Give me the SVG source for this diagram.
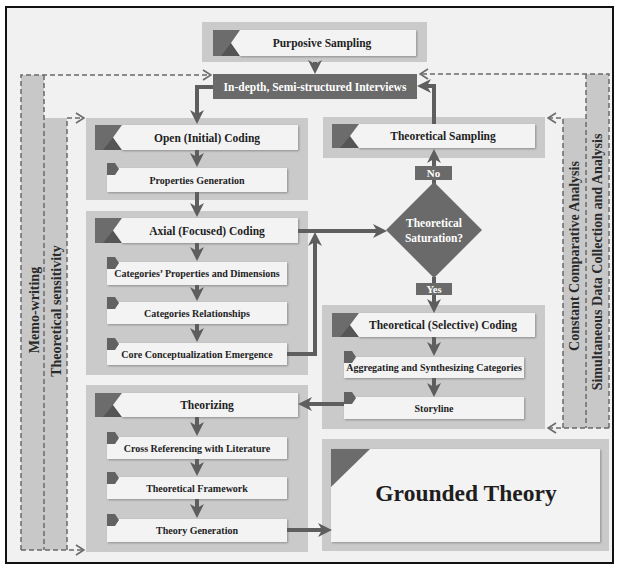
<svg xmlns="http://www.w3.org/2000/svg" width="619" height="566" viewBox="0 0 619 566">
<style>
.grp{fill:#cacaca}
.box{fill:#f3f3f3;filter:url(#sh)}
.ic{fill:#6c6c6c}
.ic2{fill:#555555}
.tag{fill:#626262}
.t{font-family:"Liberation Serif","Times New Roman",serif;font-weight:bold;fill:#1e1e1e;text-anchor:middle;dominant-baseline:central}
.h{font-size:11.5px}
.s{font-size:10px}
.w{fill:#ffffff}
.side{font-size:14px;fill:#2a2a2a}
.col{fill:#c8c8c8}
.a{fill:none;stroke:#5e5e5e;stroke-width:4;marker-end:url(#ah)}
.d{fill:none;stroke:#6a6a6a;stroke-width:1.5;stroke-dasharray:5 3}
.da{marker-end:url(#dh)}
</style>
<defs>
<filter id="sh" x="-5%" y="-10%" width="110%" height="130%">
<feDropShadow dx="1" dy="1" stdDeviation="0.8" flood-color="#000" flood-opacity="0.3"/>
</filter>
<marker id="ah" markerUnits="userSpaceOnUse" markerWidth="14" markerHeight="14" viewBox="0 0 14 14" refX="5" refY="7" orient="auto">
<path d="M0,0 L14,7 L0,14 L4,7 z" fill="#5e5e5e"/>
</marker>
<marker id="dh" markerUnits="userSpaceOnUse" markerWidth="10" markerHeight="12" viewBox="0 0 10 12" refX="9" refY="6" orient="auto">
<path d="M1,1 L9,6 L1,11" fill="none" stroke="#6a6a6a" stroke-width="1.6"/>
</marker>
</defs>
<rect x="0" y="0" width="619" height="566" fill="#ffffff"/>
<rect x="6" y="7" width="607" height="556" fill="#f1f1f1" stroke="#111" stroke-width="2"/>

<!-- side columns -->
<g id="memo-writing">
<rect class="col" x="21" y="75" width="23" height="475"/>
<text class="t side" transform="translate(34,310) rotate(-90)">Memo-writing</text>
</g>
<g id="theoretical-sensitivity">
<rect class="col" x="44" y="118" width="23" height="432"/>
<text class="t side" transform="translate(56,311) rotate(-90)">Theoretical sensitivity</text>
</g>
<g id="constant-comparative">
<rect class="col" x="563" y="118" width="23" height="310"/>
<text class="t side" transform="translate(574,256) rotate(-90)">Constant Comparative Analysis</text>
</g>
<g id="simultaneous">
<rect class="col" x="586" y="74" width="23" height="354"/>
<text class="t side" transform="translate(597,262) rotate(-90)">Simultaneous Data Collection and Analysis</text>
</g>

<!-- Purposive Sampling -->
<g id="purposive-sampling">
<rect class="grp" x="202" y="22" width="225" height="40"/>
<rect class="ic" x="213" y="30" width="27" height="26"/>
<polygon class="ic2" points="221,56 231,43 240,56"/>
<polygon class="box" points="240,30 416,30 416,56 240,56 231,43"/>
<text class="t h" x="322" y="43">Purposive Sampling</text>
</g>

<!-- Interviews -->
<g id="interviews">
<rect x="213" y="74" width="204" height="25" fill="#6a6a6a"/>
<text class="t h w" x="315" y="86.5">In-depth, Semi-structured Interviews</text>
</g>

<!-- Open coding group -->
<g id="open-coding">
<rect class="grp" x="86" y="118" width="222" height="82"/>
<rect class="ic" x="95" y="125" width="27" height="25"/>
<polygon class="ic2" points="103,150 113,137.5 122,150"/>
<polygon class="box" points="122,125 298,125 298,150 122,150 113,137.5"/>
<text class="t h" x="207" y="137.5">Open (Initial) Coding</text>
</g>
<g id="properties-generation">
<rect class="box" x="107" y="168" width="180" height="24"/>
<polygon class="tag" points="107,163 115,163 119,169 115,175 107,175"/>
<text class="t s" x="197" y="180">Properties Generation</text>
</g>

<!-- Axial coding group -->
<g id="axial-coding">
<rect class="grp" x="86" y="211" width="222" height="164"/>
<rect class="ic" x="95" y="218" width="27" height="25"/>
<polygon class="ic2" points="103,243 113,230.5 122,243"/>
<polygon class="box" points="122,218 298,218 298,243 122,243 113,230.5"/>
<text class="t h" x="207" y="230.5">Axial (Focused) Coding</text>
</g>
<g id="categories-properties">
<rect class="box" x="107" y="262" width="180" height="23"/>
<polygon class="tag" points="107,257 115,257 119,263 115,269 107,269"/>
<text class="t s" x="197" y="273.5">Categories’ Properties and Dimensions</text>
</g>
<g id="categories-relationships">
<rect class="box" x="107" y="302" width="180" height="22"/>
<polygon class="tag" points="107,297 115,297 119,303 115,309 107,309"/>
<text class="t s" x="197" y="313">Categories Relationships</text>
</g>
<g id="core-conceptualization">
<rect class="box" x="107" y="343" width="180" height="22"/>
<polygon class="tag" points="107,338 115,338 119,344 115,350 107,350"/>
<text class="t s" x="197" y="354">Core Conceptualization Emergence</text>
</g>

<!-- Theorizing group -->
<g id="theorizing">
<rect class="grp" x="86" y="385" width="222" height="167"/>
<rect class="ic" x="95" y="393" width="27" height="24"/>
<polygon class="ic2" points="103,417 113,405 122,417"/>
<polygon class="box" points="122,393 298,393 298,417 122,417 113,405"/>
<text class="t h" x="207" y="405">Theorizing</text>
</g>
<g id="cross-referencing">
<rect class="box" x="107" y="437" width="180" height="22"/>
<polygon class="tag" points="107,432 115,432 119,438 115,444 107,444"/>
<text class="t s" x="197" y="448">Cross Referencing with Literature</text>
</g>
<g id="theoretical-framework">
<rect class="box" x="107" y="477" width="180" height="22"/>
<polygon class="tag" points="107,472 115,472 119,478 115,484 107,484"/>
<text class="t s" x="197" y="488">Theoretical Framework</text>
</g>
<g id="theory-generation">
<rect class="box" x="107" y="519" width="180" height="23"/>
<polygon class="tag" points="107,514 115,514 119,520 115,526 107,526"/>
<text class="t s" x="197" y="530.5">Theory Generation</text>
</g>

<!-- Theoretical Sampling -->
<g id="theoretical-sampling">
<rect class="grp" x="323" y="117" width="222" height="41"/>
<rect class="ic" x="332" y="124" width="27" height="24"/>
<polygon class="ic2" points="340,148 350,136 359,148"/>
<polygon class="box" points="359,124 535,124 535,148 359,148 350,136"/>
<text class="t h" x="443" y="136">Theoretical Sampling</text>
</g>

<!-- Selective coding group -->
<g id="selective-coding">
<rect class="grp" x="322" y="305" width="223" height="124"/>
<rect class="ic" x="332" y="313" width="27" height="24"/>
<polygon class="ic2" points="340,337 350,325 359,337"/>
<polygon class="box" points="359,313 535,313 535,337 359,337 350,325"/>
<text class="t h" x="443" y="325">Theoretical (Selective) Coding</text>
</g>
<g id="aggregating">
<rect class="box" x="344" y="357" width="180" height="21"/>
<polygon class="tag" points="344,351 352,351 356,357 352,363 344,363"/>
<text class="t s" x="434" y="367.5">Aggregating and Synthesizing Categories</text>
</g>
<g id="storyline">
<rect class="box" x="344" y="397" width="180" height="22"/>
<polygon class="tag" points="344,392 352,392 356,398 352,404 344,404"/>
<text class="t s" x="434" y="408">Storyline</text>
</g>

<!-- Grounded Theory -->
<g id="grounded-theory">
<rect class="grp" x="322" y="439" width="287" height="112"/>
<rect class="box" x="331" y="449" width="269" height="93"/>
<polygon class="ic" points="331,449 370,449 331,487"/>
<text class="t" x="466" y="493" font-size="23.5">Grounded Theory</text>
</g>

<!-- connectors -->
<g id="connectors">
<line class="a" x1="315" y1="62" x2="315" y2="65"/>
<path class="a" d="M213,87 H197 V115"/>
<line class="a" x1="197" y1="150" x2="197" y2="158"/>
<line class="a" x1="197" y1="192" x2="197" y2="208"/>
<line class="a" x1="197" y1="243" x2="197" y2="252"/>
<line class="a" x1="197" y1="285" x2="197" y2="292"/>
<line class="a" x1="197" y1="324" x2="197" y2="333"/>
<line class="a" x1="197" y1="417" x2="197" y2="427"/>
<line class="a" x1="197" y1="459" x2="197" y2="467"/>
<line class="a" x1="197" y1="499" x2="197" y2="509"/>
<path class="a" d="M434,124 V86 H426"/>
<line class="a" x1="298" y1="231" x2="378" y2="231"/>
<path class="a" d="M287,354 H315 V241"/>
<line class="a" x1="434" y1="184" x2="434" y2="158"/>
<line class="a" x1="434" y1="277" x2="434" y2="304"/>
<line class="a" x1="434" y1="337" x2="434" y2="347"/>
<line class="a" x1="434" y1="378" x2="434" y2="388"/>
<line class="a" x1="344" y1="404" x2="307" y2="404"/>
<line class="a" x1="287" y1="530" x2="323" y2="530"/>
<!-- dashed -->
<path class="d" d="M44,75 V550"/>
<path class="d da" d="M21,550 V75 H211"/>
<path class="d da" d="M67,550 V118 H84"/>
<path class="d da" d="M21,550 H84"/>
<path class="d" d="M586,74 V428"/>
<path class="d da" d="M609,428 V74 H420"/>
<path class="d da" d="M563,428 V118 H548"/>
<path class="d da" d="M609,428 H548"/>
</g>

<!-- diamond & labels -->
<g id="saturation">
<polygon points="434,182 482,230 434,278 386,230" fill="#6a6a6a"/>
<text class="t h w" x="434" y="223">Theoretical</text>
<text class="t h w" x="434" y="238">Saturation?</text>
</g>
<g id="no-label">
<rect x="415" y="166" width="37" height="14" fill="#6a6a6a"/>
<text class="t w" x="433.5" y="173" font-size="11">No</text>
</g>
<g id="yes-label">
<rect x="416" y="283" width="36" height="12" fill="#6a6a6a"/>
<text class="t w" x="434" y="289" font-size="10.5">Yes</text>
</g>
</svg>
